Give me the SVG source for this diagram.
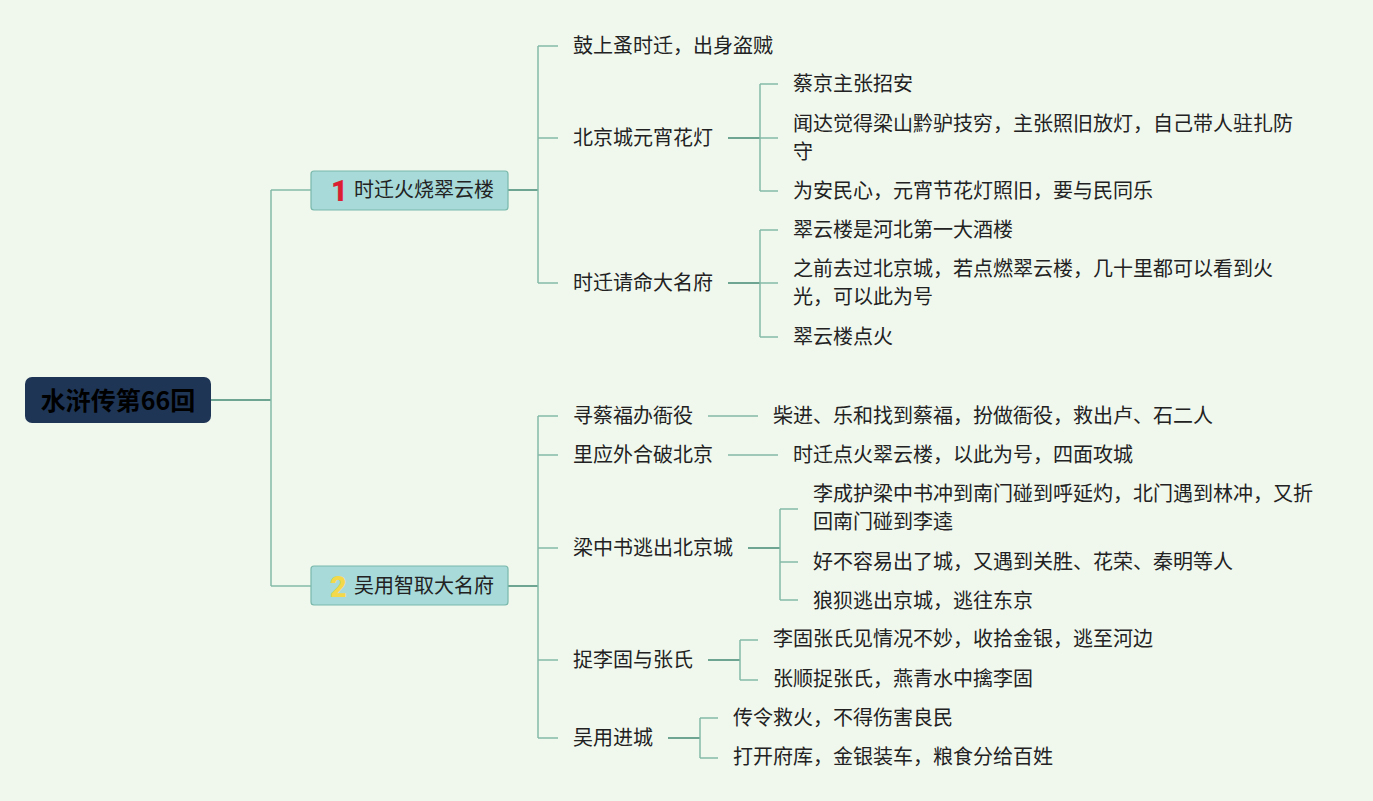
<svg xmlns="http://www.w3.org/2000/svg" width="1373" height="801" viewBox="0 0 1373 801">
<style>
.t{font-family:"Noto Sans CJK SC","Noto Sans",sans-serif;font-size:20px;fill:#222}
.c{fill:none;stroke:#84b9a6;stroke-width:1.5}
.cm{fill:none;stroke:#6ea592;stroke-width:2}
.n1{fill:#a7dad9;stroke:#79b8ab;stroke-width:1.2}
.num{font-family:Roboto,"Noto Sans",sans-serif;font-size:29px;font-weight:900}
</style>
<rect width="1373" height="801" fill="#f0f8ee"/>
<g id="connectors">
<path class="cm" d="M211 400H271"/>
<path class="c" d="M271 190V586M271 190H311M271 586H311"/>
<path class="cm" d="M508 190H538"/>
<path class="c" d="M538 46V283M538 46H558M538 138H558M538 283H558"/>
<path class="cm" d="M728 138H760"/>
<path class="c" d="M760 84V191M760 84H778M760 138H778M760 191H778"/>
<path class="cm" d="M728 283H760"/>
<path class="c" d="M760 230V337M760 230H778M760 283H778M760 337H778"/>
<path class="cm" d="M508 586H538"/>
<path class="c" d="M538 416V738M538 416H558M538 455H558M538 548H558M538 660H558M538 738H558"/>
<path class="c" d="M708 416H758"/>
<path class="c" d="M728 455H778"/>
<path class="cm" d="M748 548H780"/>
<path class="c" d="M780 509V600M780 509H798M780 562H798M780 600H798"/>
<path class="cm" d="M708 660H740"/>
<path class="c" d="M740 640V680M740 640H758M740 680H758"/>
<path class="cm" d="M668 738H700"/>
<path class="c" d="M700 718V758M700 718H718M700 758H718"/>
</g>
<g id="root">
<rect x="25" y="377" width="186" height="46" rx="7" fill="#1e3556"/>
<text x="118" y="410" text-anchor="middle" style="font-family:'Noto Sans CJK SC',sans-serif;font-size:25px;font-weight:bold;fill:#000">水浒传第66回</text>
</g>
<g id="n1">
<rect class="n1" x="311" y="171" width="197" height="39" rx="3"/>
<text class="num" x="331" y="201" fill="#dc1e32">1</text>
<text class="t" x="354" y="197">时迁火烧翠云楼</text>
</g>
<g id="n2">
<rect class="n1" x="311" y="566" width="197" height="39" rx="3"/>
<text class="num" x="330" y="597" fill="#f3d84a">2</text>
<text class="t" x="354" y="593">吴用智取大名府</text>
</g>
<g id="n1a"><text class="t" x="573" y="53">鼓上蚤时迁，出身盗贼</text></g>
<g id="n1b"><text class="t" x="573" y="145">北京城元宵花灯</text></g>
<g id="n1b1"><text class="t" x="793" y="91">蔡京主张招安</text></g>
<g id="n1b2"><text class="t" x="793" y="131">闻达觉得梁山黔驴技穷，主张照旧放灯，自己带人驻扎防</text><text class="t" x="793" y="159">守</text></g>
<g id="n1b3"><text class="t" x="793" y="198">为安民心，元宵节花灯照旧，要与民同乐</text></g>
<g id="n1c"><text class="t" x="573" y="290">时迁请命大名府</text></g>
<g id="n1c1"><text class="t" x="793" y="237">翠云楼是河北第一大酒楼</text></g>
<g id="n1c2"><text class="t" x="793" y="276">之前去过北京城，若点燃翠云楼，几十里都可以看到火</text><text class="t" x="793" y="304">光，可以此为号</text></g>
<g id="n1c3"><text class="t" x="793" y="344">翠云楼点火</text></g>
<g id="n2a"><text class="t" x="573" y="423">寻蔡福办衙役</text></g>
<g id="n2a1"><text class="t" x="773" y="423">柴进、乐和找到蔡福，扮做衙役，救出卢、石二人</text></g>
<g id="n2b"><text class="t" x="573" y="462">里应外合破北京</text></g>
<g id="n2b1"><text class="t" x="793" y="462">时迁点火翠云楼，以此为号，四面攻城</text></g>
<g id="n2c"><text class="t" x="573" y="555">梁中书逃出北京城</text></g>
<g id="n2c1"><text class="t" x="813" y="501">李成护梁中书冲到南门碰到呼延灼，北门遇到林冲，又折</text><text class="t" x="813" y="529">回南门碰到李逵</text></g>
<g id="n2c2"><text class="t" x="813" y="569">好不容易出了城，又遇到关胜、花荣、秦明等人</text></g>
<g id="n2c3"><text class="t" x="813" y="608">狼狈逃出京城，逃往东京</text></g>
<g id="n2d"><text class="t" x="573" y="667">捉李固与张氏</text></g>
<g id="n2d1"><text class="t" x="773" y="646">李固张氏见情况不妙，收拾金银，逃至河边</text></g>
<g id="n2d2"><text class="t" x="773" y="686">张顺捉张氏，燕青水中擒李固</text></g>
<g id="n2e"><text class="t" x="573" y="745">吴用进城</text></g>
<g id="n2e1"><text class="t" x="733" y="725">传令救火，不得伤害良民</text></g>
<g id="n2e2"><text class="t" x="733" y="764">打开府库，金银装车，粮食分给百姓</text></g>
</svg>
